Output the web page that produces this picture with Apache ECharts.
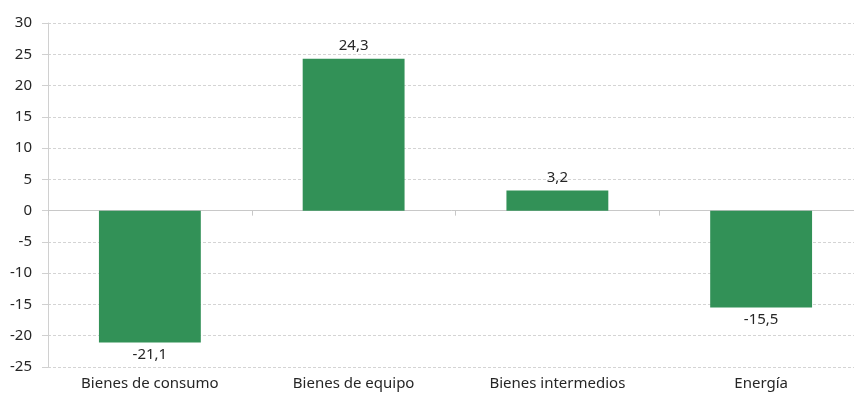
<!DOCTYPE html>
<html><head><meta charset="utf-8">
<script src="https://cdn.jsdelivr.net/npm/echarts@6/dist/echarts.min.js"></script>
<style>html,body{margin:0;padding:0;background:#fff}#c{width:854px;height:401px}</style>
</head><body><div id="c"></div>
<script>
var categories = ['Bienes de consumo', 'Bienes de equipo', 'Bienes intermedios', 'Energía'];
var values = [-21.1, 24.3, 3.2, -15.5];
var yMin = -25, yMax = 30, yStep = 5;

var chart = echarts.init(document.getElementById('c'));
var font = 'Noto Sans';
chart.setOption({
  animation: false,
  grid: {left: 48, right: -9, top: 23, bottom: 34, containLabel: false, outerBoundsMode: 'none'},
  xAxis: [{
    type: 'category', data: categories,
    axisLine: {onZero: true, lineStyle: {color: '#c8c8c8', width: 1}},
    axisTick: {show: true, length: 5, lineStyle: {color: '#c8c8c8'}},
    axisLabel: {show: false}
  }, {
    type: 'category', data: categories, position: 'bottom',
    axisLine: {show: false, onZero: false},
    axisTick: {show: false},
    axisLabel: {color: '#262626', fontSize: 15, fontFamily: font, margin: 9}
  }],
  yAxis: {
    type: 'value', min: yMin, max: yMax, interval: yStep,
    axisLine: {show: true, lineStyle: {color: '#d0d0d0'}},
    axisTick: {show: true, length: 6, lineStyle: {color: '#d0d0d0'}},
    axisLabel: {color: '#262626', fontSize: 15, fontFamily: font, margin: 16},
    splitLine: {show: true, lineStyle: {color: '#d4d4d4', type: [3, 2]}}
  },
  series: [{
    type: 'bar', data: values, xAxisIndex: 0,
    barWidth: '50%',
    itemStyle: {color: '#329157'},
    label: {show: true, position: 'outside', color: '#262626', fontSize: 15, fontFamily: font, distance: 5,
      formatter: function(p){ return String(p.value).replace('.', ','); }}
  }]
});
</script></body></html>
